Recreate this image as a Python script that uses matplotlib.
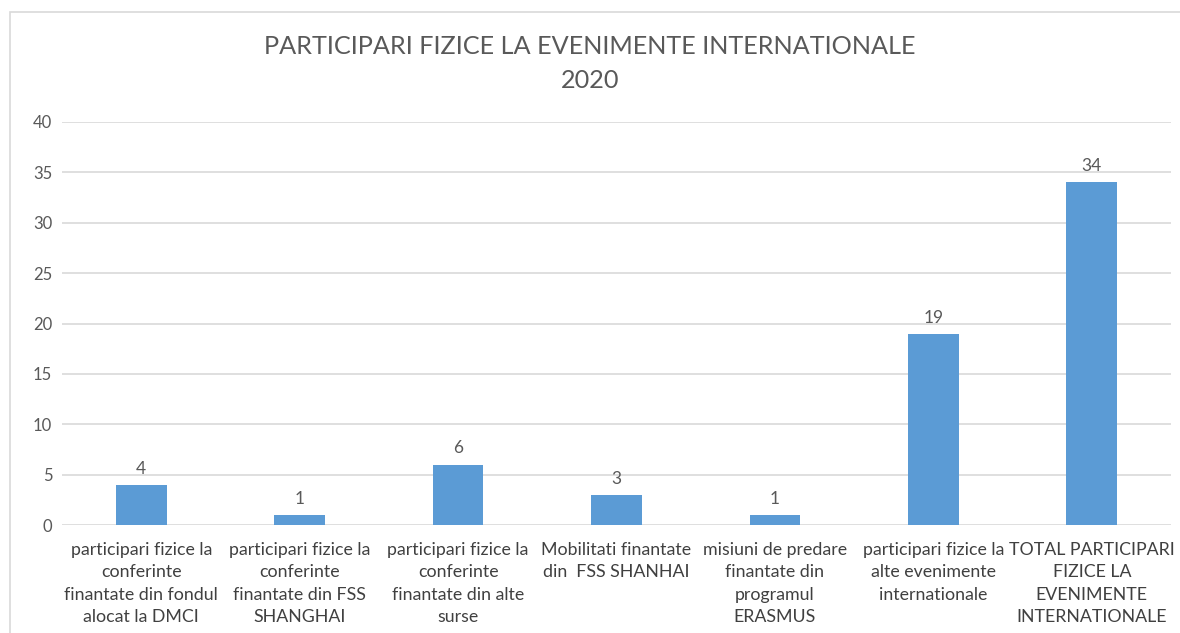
import matplotlib
matplotlib.use("Agg")
import matplotlib.pyplot as plt
from matplotlib.patches import Rectangle

categories = [
    "participari fizice la\nconferinte\nfinantate din fondul\nalocat la DMCI",
    "participari fizice la\nconferinte\nfinantate din FSS\nSHANGHAI",
    "participari fizice la\nconferinte\nfinantate din alte\nsurse",
    "Mobilitati finantate\ndin  FSS SHANHAI",
    "misiuni de predare\nfinantate din\nprogramul\nERASMUS",
    "participari fizice la\nalte evenimente\ninternationale",
    "TOTAL PARTICIPARI\nFIZICE LA\nEVENIMENTE\nINTERNATIONALE",
]
values = [4, 1, 6, 3, 1, 19, 34]
yticks = [0, 5, 10, 15, 20, 25, 30, 35, 40]

plt.rcParams["font.family"] = ["Lato", "DejaVu Sans"]
grey = "#595959"

fig = plt.figure(figsize=(11.8, 6.33), dpi=100)
# chart frame
fig.patches.append(Rectangle((10 / 1180, -0.1), 1.2, 1 - 12 / 633 + 0.1,
                             transform=fig.transFigure, fill=False,
                             edgecolor="#d9d9d9", linewidth=1.2))

ax = fig.add_axes([62 / 1180, 1 - 525 / 633, (1171 - 62) / 1180, (525 - 122) / 633])
x = range(len(values))
bars = ax.bar(x, values, width=0.32, color="#5B9BD5", zorder=3)
for xi, v in zip(x, values):
    ax.text(xi, v + 0.8, str(v), ha="center", va="bottom", fontsize=12.5, color=grey)

ax.set_xlim(-0.5, len(values) - 0.5)
ax.set_ylim(0, 40)
ax.set_yticks(yticks)
ax.yaxis.grid(True, color="#d9d9d9", linewidth=1.2, zorder=0)
ax.set_xticks(list(x))
ax.set_xticklabels(categories, fontsize=12.8, color="#404040", linespacing=1.5)
ax.tick_params(axis="both", length=0)
ax.tick_params(axis="y", labelsize=12, labelcolor=grey, pad=7)
ax.tick_params(axis="x", pad=12)
for s in ax.spines.values():
    s.set_visible(False)

fig.text(0.5, 1 - 47 / 633, "PARTICIPARI FIZICE LA EVENIMENTE INTERNATIONALE",
         ha="center", va="center", fontsize=18.2, color=grey)
fig.text(0.5, 1 - 80 / 633, "2020", ha="center", va="center", fontsize=18.2, color=grey)

fig.savefig("out.png", dpi=100)
